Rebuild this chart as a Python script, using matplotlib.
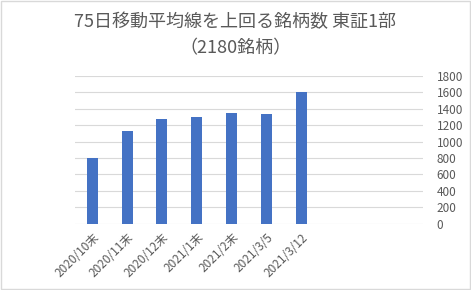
import matplotlib
matplotlib.use("Agg")
import matplotlib.pyplot as plt
from matplotlib.patches import Rectangle

plt.rcParams['font.family'] = ['Noto Sans CJK JP', 'DejaVu Sans']

# data
labels = ['2020/10末', '2020/11末', '2020/12末', '2021/1末', '2021/2末', '2021/3/5', '2021/3/12']
counts = [800, 1130, 1270, 1295, 1345, 1335, 1600]
n_slots = 10  # category axis has room for 10 bars, only 7 used

text_col = '#595959'

fig = plt.figure(figsize=(4.71, 2.90), dpi=100)
ax = fig.add_axes([0.159, 0.228, 0.739, 0.511])

ax.bar(range(len(counts)), counts, width=0.32, color='#4472C4', zorder=3)

ax.set_xlim(-0.5, n_slots - 0.5)
ax.set_ylim(0, 1800)
ax.set_yticks(range(0, 1801, 200))
ax.yaxis.tick_right()
ax.tick_params(axis='y', length=0, pad=10, labelsize=8.5, labelcolor=text_col)
for t in ax.get_yticklabels():
    t.set_horizontalalignment('left')

ax.set_xticks(range(len(labels)))
ax.set_xticklabels(labels, rotation=45, ha='right', rotation_mode='anchor',
                   fontsize=8.5, color=text_col)
ax.tick_params(axis='x', length=0, pad=5)

ax.grid(axis='y', color='#d9d9d9', linewidth=0.8, zorder=0)
for s in ax.spines.values():
    s.set_visible(False)

fig.text(0.5, 0.925, '75日移動平均線を上回る銘柄数 東証1部', ha='center', va='center',
         fontsize=13, color=text_col)
fig.text(0.5, 0.833, '（2180銘柄）', ha='center', va='center',
         fontsize=13, color=text_col)

# outer chart border
fig.patches.append(Rectangle((0.002, 0.003), 0.996, 0.994, transform=fig.transFigure,
                             fill=False, edgecolor='#d9d9d9', linewidth=1))

fig.savefig('out.png', dpi=100)
